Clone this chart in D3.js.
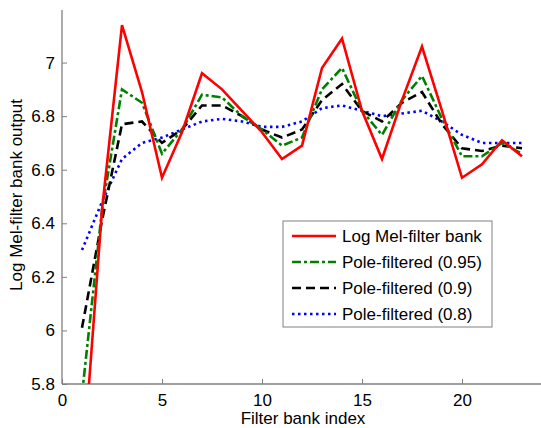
<!DOCTYPE html>
<html>
<head>
<meta charset="utf-8">
<script src="https://cdn.jsdelivr.net/npm/d3@7"></script>
<style>
  body { margin: 0; background: #fff; }
  svg text { font-family: "Liberation Sans", Arial, sans-serif; fill: #000; }
</style>
</head>
<body>
<div id="chart"></div>
<script>
// filter bank index 1..23
const filterIndex = [1, 2, 3, 4, 5, 6, 7, 8, 9, 10, 11, 12, 13, 14, 15, 16, 17, 18, 19, 20, 21, 22, 23];

const logMel = [5.45, 6.45, 7.14, 6.89, 6.57, 6.74, 6.96, 6.90, 6.82, 6.74, 6.64, 6.69,
                6.98, 7.09, 6.82, 6.64, 6.86, 7.06, 6.82, 6.57, 6.62, 6.71, 6.65];
const pole095 = [5.76, 6.45, 6.90, 6.85, 6.66, 6.75, 6.88, 6.87, 6.80, 6.75, 6.69, 6.72,
                 6.90, 6.98, 6.82, 6.73, 6.86, 6.95, 6.79, 6.65, 6.65, 6.70, 6.66];
const pole09 = [6.01, 6.41, 6.77, 6.78, 6.70, 6.75, 6.84, 6.84, 6.80, 6.75, 6.72, 6.75,
                6.86, 6.92, 6.82, 6.78, 6.85, 6.89, 6.77, 6.68, 6.67, 6.69, 6.68];
const pole08 = [6.30, 6.48, 6.64, 6.70, 6.72, 6.75, 6.78, 6.79, 6.78, 6.76, 6.76, 6.78,
                6.83, 6.84, 6.82, 6.80, 6.81, 6.82, 6.78, 6.73, 6.70, 6.70, 6.70];

const seriesNames = ["Log Mel-filter bank", "Pole-filtered (0.95)", "Pole-filtered (0.9)", "Pole-filtered (0.8)"];
const xTicks = [0, 5, 10, 15, 20];
const yTicks = [5.8, 6, 6.2, 6.4, 6.6, 6.8, 7];

const series = [
  {name: seriesNames[0], values: logMel, color: "#ff0000", dash: null},
  {name: seriesNames[1], values: pole095, color: "#008000", dash: "9,3,3,3"},
  {name: seriesNames[2], values: pole09, color: "#000000", dash: "9,5"},
  {name: seriesNames[3], values: pole08, color: "#0000ff", dash: "2.5,3.5"}
];

const W = 541, H = 428;
const margin = {top: 9, right: 0, bottom: 44, left: 62};
const width = W - margin.left - margin.right;
const height = H - margin.top - margin.bottom;
const fontSize = 17;

const svg = d3.select("#chart").append("svg")
    .attr("width", W)
    .attr("height", H);

svg.append("defs").append("clipPath").attr("id", "plot")
  .append("rect").attr("width", width).attr("height", height);

const g = svg.append("g")
    .attr("transform", `translate(${margin.left},${margin.top})`);

const x = d3.scaleLinear().domain([0, 24]).range([0, 480]);
const y = d3.scaleLinear().domain([5.8, 7.2]).range([height, 0]);

// axes, matlab style ticks pointing inward
const xAxis = g.append("g").attr("transform", `translate(0,${height})`)
    .call(d3.axisBottom(x).tickValues(xTicks).tickSize(-5).tickPadding(10).tickSizeOuter(0));
const yAxis = g.append("g")
    .call(d3.axisLeft(y).tickValues(yTicks).tickFormat(d3.format("")).tickSize(-5).tickPadding(7).tickSizeOuter(0));

[xAxis, yAxis].forEach(a => {
  a.select(".domain").attr("stroke", "#808080").attr("stroke-width", 1.3);
  a.selectAll(".tick line").attr("stroke", "#808080");
  a.selectAll(".tick text").attr("font-size", fontSize).attr("font-family", "Liberation Sans, Arial, sans-serif");
});
xAxis.select(".domain").attr("d", `M0,0H${width}`);
yAxis.select(".domain").attr("d", `M0,${height}V1`);

const line = d3.line()
    .x((d, i) => x(filterIndex[i]))
    .y(d => y(d));

const lines = g.append("g").attr("clip-path", "url(#plot)");
series.slice().reverse().forEach(s => {
  lines.append("path")
      .datum(s.values)
      .attr("fill", "none")
      .attr("stroke", s.color)
      .attr("stroke-width", 2.6)
      .attr("stroke-dasharray", s.dash)
      .attr("d", line);
});

// axis labels
svg.append("text")
    .attr("x", 303).attr("y", 424)
    .attr("text-anchor", "middle")
    .attr("font-size", fontSize)
    .text("Filter bank index");

svg.append("text")
    .attr("transform", "translate(22,195) rotate(-90)")
    .attr("text-anchor", "middle")
    .attr("font-size", fontSize)
    .text("Log Mel-filter bank output");

// legend
const legend = svg.append("g").attr("transform", "translate(283,221)");
legend.append("rect")
    .attr("width", 209).attr("height", 106)
    .attr("fill", "#fff")
    .attr("stroke", "#808080");

series.forEach((s, i) => {
  const row = legend.append("g").attr("transform", `translate(0,${15 + i * 26})`);
  row.append("line")
      .attr("x1", 9).attr("x2", 53)
      .attr("stroke", s.color)
      .attr("stroke-width", 2.6)
      .attr("stroke-dasharray", s.dash);
  row.append("text")
      .attr("x", 59).attr("dy", "0.35em")
      .attr("font-size", fontSize)
      .text(s.name);
});
</script>
</body>
</html>
